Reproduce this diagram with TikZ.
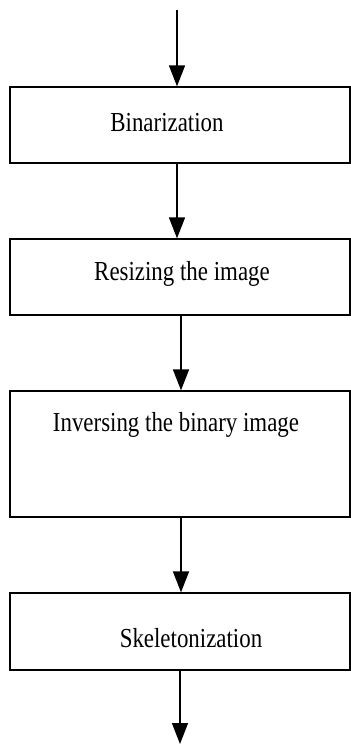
\documentclass[tikz,border=0pt]{standalone}
\usepackage{fontspec}
\setmainfont{Liberation Serif}
\usetikzlibrary{positioning,arrows.meta,calc}

% slightly tall lettering
\newcommand{\tallword}[1]{\scalebox{1}[1.2]{#1}}

\begin{document}
\begin{tikzpicture}[x=1pt, y=-1pt, >={Triangle[width=16pt, length=21pt]}]
    \tikzset{
        stagebox/.style={draw, line width=1.3pt, minimum width=340pt, inner sep=0pt},
        stagetext/.style={anchor=base, inner sep=0pt, font=\fontsize{22.9}{27}\selectfont},
        flow/.style={->, line width=1.5pt}
    }
    \useasboundingbox (0, 0) rectangle (351, 745);

    % Processing stages, top to bottom
    \node[stagebox, minimum height=76pt] (bin) at (180, 125) {};
    \node[stagebox, minimum height=76pt] (res) at (180, 277) {};
    \node[stagebox, minimum height=126pt] (inv) at (180, 454) {};
    \node[stagebox, minimum height=77pt] (skel) at (180, 631.5) {};

    % Stage captions
    \node[stagetext] (binlbl) at (167, 131) {\tallword{Binarization}};
    \node[stagetext] (reslbl) at (182, 280) {\tallword{Resizing the image}};
    \node[stagetext] (invlbl) at (176, 431) {\tallword{Inversing the binary image}};
    \node[stagetext] (skellbl) at (191, 647) {\tallword{Skeletonization}};

    % Open ends of the flow
    \coordinate (in) at (177, 10);
    \coordinate (out) at (180, 744);

    % Flow arrows
    \draw[flow] (in) -- ([xshift=-3pt]bin.north);
    \draw[flow] ([xshift=-3pt]bin.south) -- ([xshift=-3pt]res.north);
    \draw[flow] ([xshift=1pt]res.south) -- ([xshift=1pt]inv.north);
    \draw[flow] ([xshift=1pt]inv.south) -- ([xshift=1pt]skel.north);
    \draw[flow] (skel.south) -- (out);
\end{tikzpicture}
\end{document}
